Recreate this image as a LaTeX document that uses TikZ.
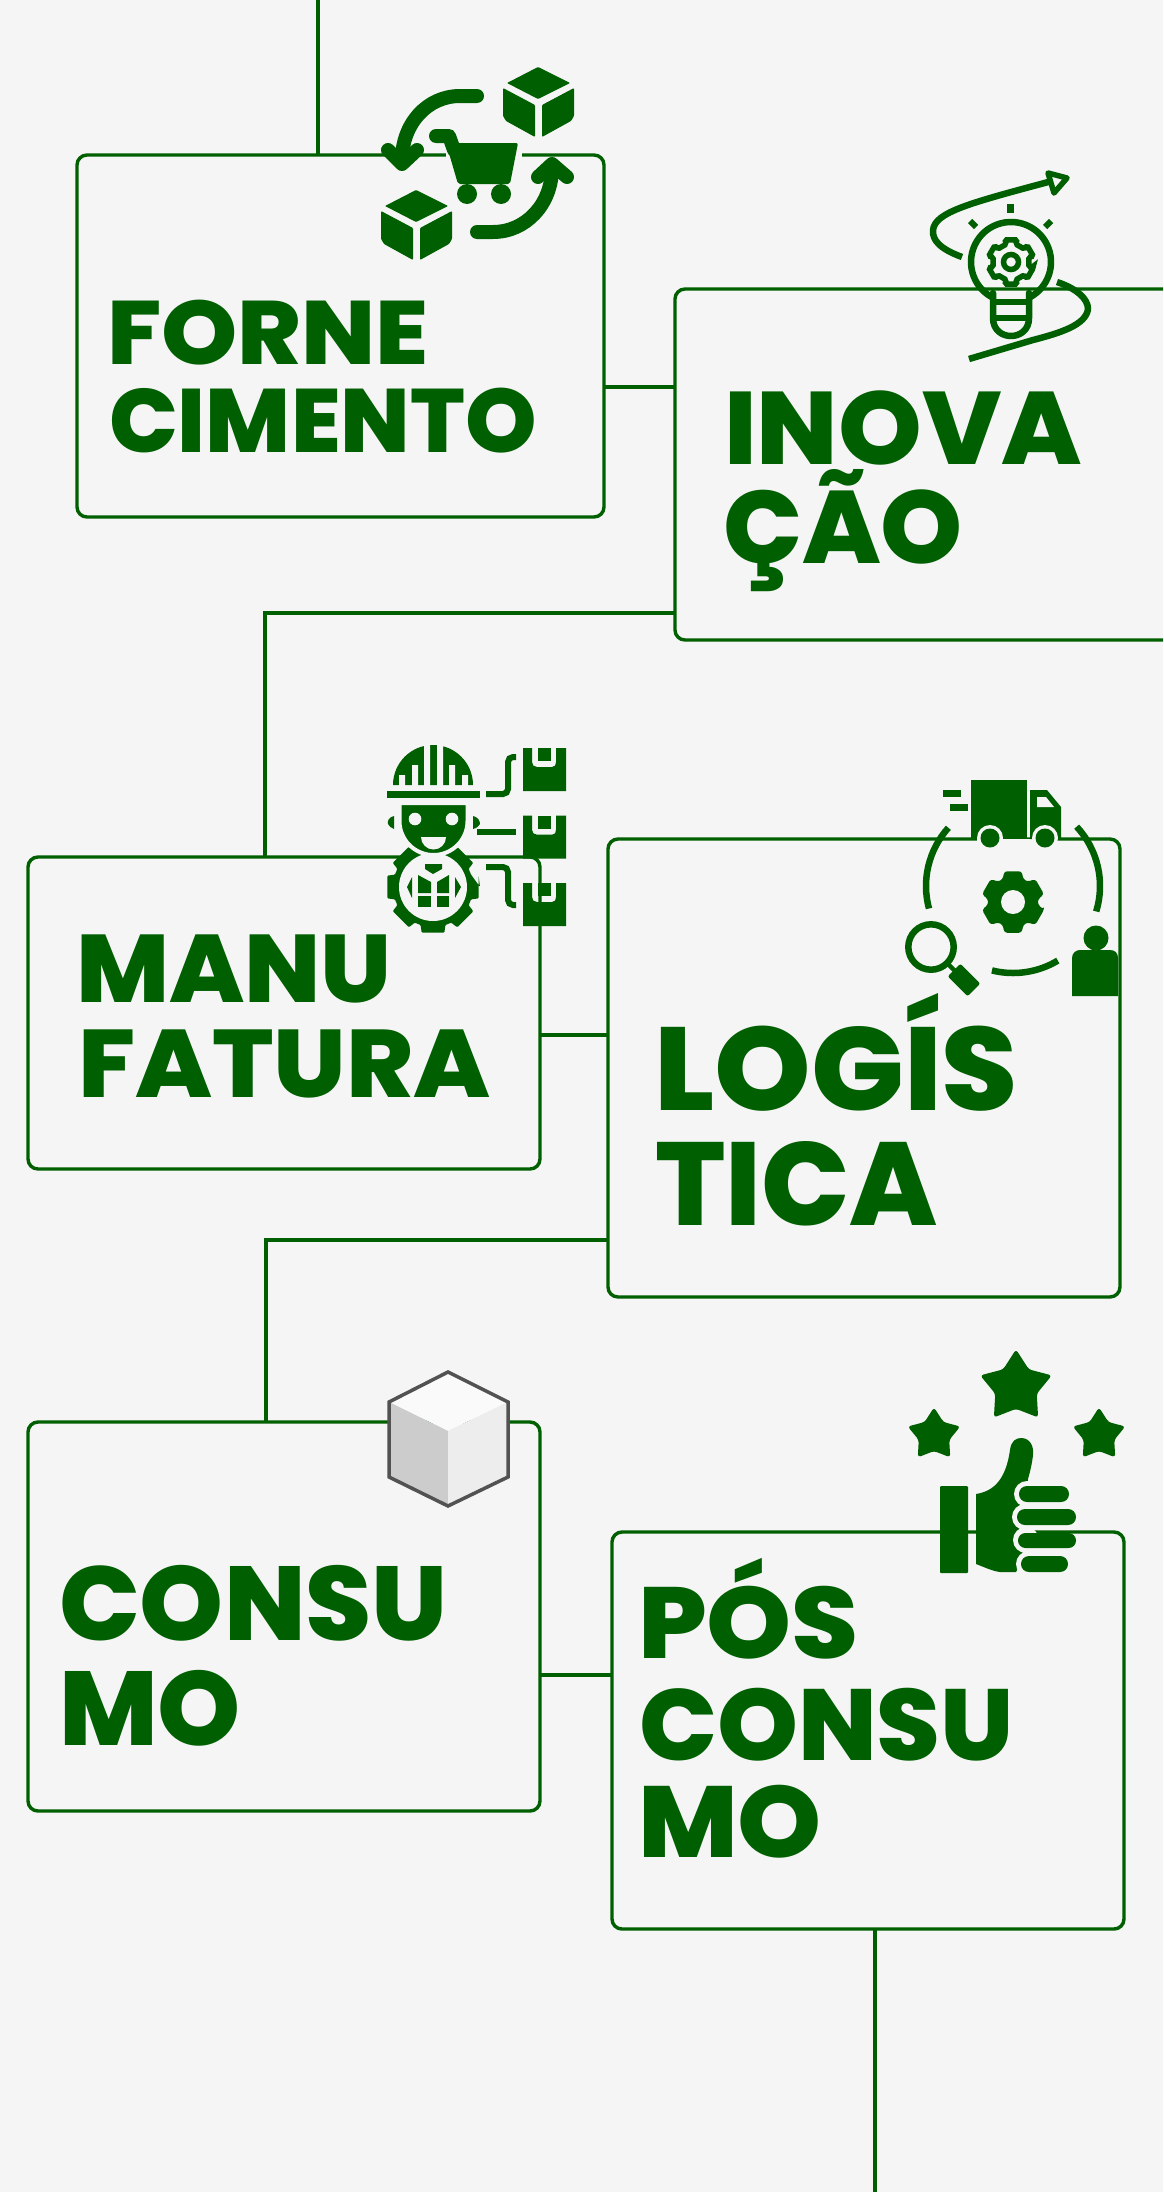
\documentclass[tikz,border=0pt]{standalone}
\usepackage{graphicx}
\usepackage{fontspec}
\setmainfont{Poppins ExtraBold}
\definecolor{G}{HTML}{005F00}
\definecolor{BG}{HTML}{F5F5F5}
\tikzset{
  bx/.style={draw=G,line width=3.4pt,rounded corners=10pt,outer sep=0pt,inner sep=0pt},
  conn/.style={draw=G,line width=3.4pt},
  stk/.style={draw=G,line width=#1,line cap=round,line join=round},
  lbl/.style={anchor=base west,inner sep=0pt,outer sep=0pt,text=G}
}
\newcommand{\gl}[3]{\fontsize{#2}{#2}\selectfont\resizebox{#1pt}{\height}{#3}}
\newcommand{\gcube}[2]{\begin{scope}[shift={(#1,#2)}]
 \fill[G,rounded corners=0.8pt] (538,67)--(570,83)--(538,99)--(507,83)--cycle;
 \fill[G,rounded corners=1pt] (503,88)--(535,105)--(535,137)--(506,121)--(503,116)--cycle;
 \fill[G,rounded corners=1pt] (542,105)--(574,88)--(574,116)--(571,121)--(542,137)--cycle;
\end{scope}}
\newcommand{\gstar}[3]{\begin{scope}[shift={(#1,#2)}]
 \fill[G,rounded corners=3pt] (270:#3)--(306:0.58*#3)--(342:#3)--(18:0.58*#3)--(54:#3)--(90:0.58*#3)--(126:#3)--(162:0.58*#3)--(198:#3)--(234:0.58*#3)--cycle;
\end{scope}}
\newcommand{\gbox}[1]{\begin{scope}[shift={(0,#1)}]
 \fill[G] (523,748)--(532,748)--(532,762)..controls(532,765)and(534,767)..(537,767)--(552,767)..controls(555,767)and(556,765)..(556,762)--(556,748)--(566,748)--(566,791)--(523,791)--cycle;
 \fill[G] (538,748) rectangle (551,761);
\end{scope}}
\begin{document}
\begin{tikzpicture}[x=1pt,y=1pt,yscale=-1]
\useasboundingbox (0,0) rectangle (1163,2192);
\clip (0,0) rectangle (1163,2192);
\fill[BG] (0,0) rectangle (1163,2192);
% boxes
\node[bx,minimum width=527pt,minimum height=362pt] (forne) at (340.5,336) {};
\node[bx,minimum width=625pt,minimum height=351pt] (inova) at (987.5,464.5) {};
\node[bx,minimum width=512pt,minimum height=312pt] (manu) at (284,1013) {};
\node[bx,minimum width=512pt,minimum height=458pt] (logis) at (864,1068) {};
\node[bx,minimum width=512pt,minimum height=389pt] (consu) at (284,1616.5) {};
\node[bx,minimum width=512pt,minimum height=397pt] (pos) at (868,1730.5) {};
% connector helpers
\coordinate (ctop) at (318,0);
\coordinate (c1) at (0,387);
\coordinate (c2) at (265,613);
\coordinate (c3) at (0,1035);
\coordinate (c4) at (266,1240);
\coordinate (c5) at (0,1675);
\coordinate (cend) at (875,2192);
\draw[conn] (ctop) -- (forne.north -| ctop);
\draw[conn] (forne.east |- c1) -- (inova.west |- c1);
\draw[conn] (inova.west |- c2) -- (c2) -- (manu.north -| c2);
\draw[conn] (manu.east |- c3) -- (logis.west |- c3);
\draw[conn] (logis.west |- c4) -- (c4) -- (consu.north -| c4);
\draw[conn] (consu.east |- c5) -- (pos.west |- c5);
\draw[conn,line width=4.2pt] (pos.south -| cend) -- (cend);
% texts
\node[lbl] (t1) at (107,364) {\gl{322}{90}{FORNE}};
\node[lbl] (t2) at (109,452) {\gl{428}{90}{CIMENTO}};
\node[lbl] (t3) at (724,464) {\gl{358}{103}{INOVA}};
\node[lbl] (t4) at (723,563) {\gl{240}{103}{ÇÃO}};
\node[lbl] (t5) at (76,1002) {\gl{316}{96}{MANU}};
\node[lbl] (t6) at (78,1097) {\gl{413}{96}{FATURA}};
\node[lbl] (t7) at (654,1110) {\gl{364}{118}{LOGÍS}};
\node[lbl] (t8) at (655,1225) {\gl{283}{118}{TICA}};
\node[lbl] (t9) at (59,1640) {\gl{389}{105}{CONSU}};
\node[lbl] (t10) at (59,1745) {\gl{182}{105}{MO}};
\node[lbl] (t11) at (638,1658) {\gl{221}{101}{PÓS}};
\node[lbl] (t12) at (639,1760) {\gl{375}{101}{CONSU}};
\node[lbl] (t13) at (638,1857) {\gl{184}{101}{MO}};
% ---- cart icon
\fill[BG] (446,139) rectangle (522,175);
\draw[stk=14pt] (477,96) -- (460,96) .. controls (427,96) and (402,124) .. (402,160);
\draw[stk=14pt] (388,150) -- (402,164) -- (417,150);
\draw[stk=14pt] (477,232) -- (493,232) .. controls (526,232) and (552,204) .. (552,168);
\draw[stk=14pt] (538,177) -- (552,164) -- (567,177);
\draw[stk=14pt] (436,136) -- (449,136) -- (454,150);
\fill[G,rounded corners=2pt] (446,143) -- (518,143) -- (510,184) -- (458,184) -- cycle;
\fill[G] (467,194) circle (10);
\fill[G] (501,194) circle (10);
\gcube{0}{0}
\gcube{-122}{123}
% ---- bulb icon
\draw[stk=6.5pt,line cap=butt] (962,257) .. controls (940,249) and (932,240) .. (933,230) .. controls (935,212) and (970,203) .. (1052,181);
\draw[G,line width=5.5pt,line join=round] (1048,173) -- (1067,178) -- (1054,193) -- cycle;
\draw[stk=6.5pt,line cap=butt] (1057,282) .. controls (1075,288) and (1088,298) .. (1088,309) .. controls (1086,325) and (1060,333) .. (1033,340) -- (969,359);
\draw[G,line width=6.5pt] ([shift={(1011,262)}]115:40) arc (115:425:40);
\draw[stk=6.5pt] (993,293) -- (993,318) .. controls (993,330) and (1002,336) .. (1011,336) .. controls (1020,336) and (1029,330) .. (1029,318) -- (1029,293);
\draw[G,line width=6pt] (993,302) -- (1029,302) (994,318) -- (1028,318);
\fill[G] (1007,204) rectangle (1014,213);
\draw[G,line width=6pt] (970,221) -- (976,227);
\draw[G,line width=6pt] (1051,221) -- (1045,227);
\begin{scope}[shift={(1011,262)}]
\draw[G,line width=5.5pt,rounded corners=1.6pt] (30-15:23) \foreach \a in {30,90,...,330} { -- (\a-15:23) -- (\a+15:23) -- (\a+15:18.5) -- (\a+45:18.5) } -- cycle;
\draw[G,line width=5.5pt] (0,0) circle (7.5);
\end{scope}
% ---- worker icon
\begin{scope}[shift={(433,887)}]
\fill[G,rounded corners=1pt] (0:47) \foreach \a in {0,45,...,315} { -- (\a-14:47) -- (\a+14:47) -- (\a+18:40) -- (\a+27:40) } -- cycle;
\fill[BG] (0,0) circle (34);
\end{scope}
\fill[G] (425,864) -- (442,864) -- (442,869) -- (433,874) -- (425,869) -- cycle;
\fill[G] (418,875) -- (431,882) -- (431,893) -- (418,893) -- cycle;
\fill[G] (449,875) -- (437,882) -- (437,893) -- (449,893) -- cycle;
\fill[G] (418,896) rectangle (431,907);
\fill[G] (437,896) rectangle (449,907);
\fill[G] (412,877) -- (407,887) -- (412,898) -- cycle;
\fill[G] (455,877) -- (461,887) -- (455,898) -- cycle;
% helmet
\fill[G] (393,785) arc (180:360:40) -- cycle;
\fill[BG] (399,775) rectangle (405,786) (412,765) rectangle (418,786) (424,745) rectangle (430,786) (437,745) rectangle (443,786) (449,765) rectangle (455,786) (462,775) rectangle (468,786);
\fill[G] (387,791) rectangle (480,798);
\draw[BG,line width=4pt,fill=G] (399.5,803) -- (467.5,803) -- (467.5,821) arc (0:180:34) -- cycle;
\fill[BG] (415,819) circle (6.3);
\fill[BG] (452,819) circle (6.3);
\fill[BG] (421,837) -- (446,837) arc (0:180:12.5) -- cycle;
\fill[G] (394,816) .. controls (389,817) and (387,821) .. (388,824) .. controls (389,826) and (391,828) .. (394,829) -- cycle;
\fill[G] (473,816) .. controls (478,817) and (480,821) .. (480,824) .. controls (479,826) and (477,828) .. (473,829) -- cycle;
\draw[G,line width=6pt,rounded corners=5pt] (486,794) -- (508,794) -- (508,757) -- (516,757);
\draw[G,line width=6pt] (477,832) -- (516,832);
\draw[G,line width=6pt,rounded corners=5pt] (486,867) -- (508,867) -- (508,905) -- (516,905);
\gbox{0}
\gbox{67.7}
\gbox{135}
% ---- truck icon
\fill[BG] (977,839) rectangle (1055,858);
\fill[G] (971,780) rectangle (1027,839);
\fill[G] (1030,790) -- (1047,790) -- (1061,807) -- (1061,839) -- (1030,839) -- cycle;
\fill[BG] (1037,797) -- (1046,797) -- (1054,807) -- (1037,807) -- cycle;
\fill[BG] (990,838) circle (13);
\fill[BG] (1045,838) circle (13);
\fill[G] (990,838) circle (9.5);
\fill[G] (1045,838) circle (9.5);
\fill[G] (943,790) rectangle (961,797);
\fill[G] (950,804) rectangle (968,811);
\draw[G,line width=6.5pt] ([shift={(1013,886)}]222:87) arc (222:165:87);
\draw[G,line width=6.5pt] ([shift={(1013,886)}]317:87) arc (317:377:87);
\draw[G,line width=6.5pt] ([shift={(1013,886)}]104:87) arc (104:59:87);
\begin{scope}[shift={(1013,902)}]
\fill[G,rounded corners=3pt] (30-16:32) \foreach \a in {30,90,...,330} { -- (\a-16:32) -- (\a+16:32) -- (\a+24:25) -- (\a+36:25) } -- cycle;
\fill[BG] (0,0) circle (12);
\end{scope}
\draw[G,line width=6.5pt] (931,947) circle (22.7);
\draw[G,line width=4.5pt] (947,963) -- (958,974);
\fill[G,rotate around={45:(964,980)},rounded corners=2pt] (950,971) rectangle (978,989);
\fill[G] (1096,938) circle (12.5);
\fill[G] (1072,996) -- (1072,958) .. controls (1072,953) and (1076,950) .. (1080,950) -- (1110,950) .. controls (1115,950) and (1118,953) .. (1118,958) -- (1118,996) -- cycle;
% ---- thumb icon
\gstar{1016}{1387}{37.6}
\gstar{934}{1435}{27.6}
\gstar{1099}{1435}{27.6}
\fill[G,rounded corners=1pt] (940,1486) rectangle (968,1573);
\fill[G] (976,1494) .. controls (995,1491) and (1006,1478) .. (1010,1450) .. controls (1011,1441) and (1016,1438) .. (1021,1438) .. controls (1030,1438) and (1034,1446) .. (1033,1455) .. controls (1032,1464) and (1030,1472) .. (1028,1479) -- (1022,1560) -- (1016,1572) -- (1000,1572) .. controls (992,1571) and (984,1567) .. (976,1564) -- cycle;
\fill[BG] (1027,1494) circle (13);
\fill[BG] (1025,1517) circle (13);
\fill[BG] (1026,1540) circle (13);
\fill[BG] (1029,1564) circle (13);
\fill[G,rounded corners=7.9pt] (1019,1486) rectangle (1069,1502);
\fill[G,rounded corners=7.9pt] (1017,1509) rectangle (1076,1525);
\fill[G,rounded corners=7.4pt] (1018,1533) rectangle (1076,1548);
\fill[G,rounded corners=7.9pt] (1021,1556) rectangle (1068,1572);
% ---- grey cube
\fill[fill=white!98!black] (448,1372) -- (508,1402) -- (448,1431) -- (389,1402) -- cycle;
\fill[fill=black!20] (389,1402) -- (448,1431) -- (448,1506) -- (389,1477) -- cycle;
\fill[fill=black!7] (508,1402) -- (448,1431) -- (448,1506) -- (508,1477) -- cycle;
\draw[draw=black!68,line width=3.5pt,line join=miter] (448,1372) -- (508,1402) -- (508,1477) -- (448,1506) -- (389,1477) -- (389,1402) -- cycle;
\end{tikzpicture}
\end{document}
